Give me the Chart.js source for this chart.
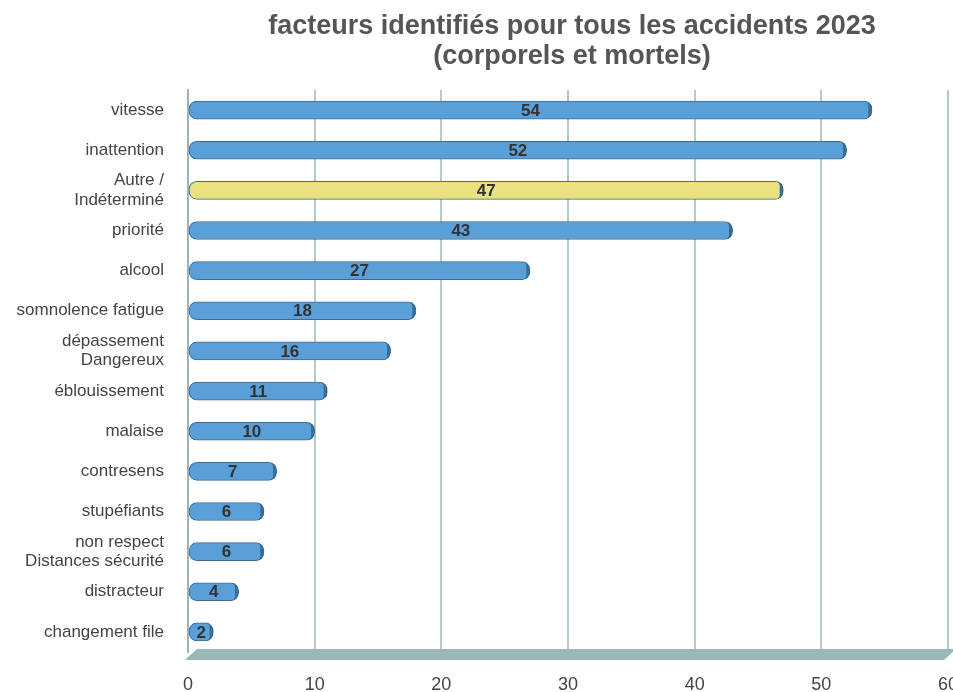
<!DOCTYPE html>
<html>
<head>
<meta charset="utf-8">
<script src="https://cdn.jsdelivr.net/npm/chart.js@4.4.1/dist/chart.umd.min.js"></script>
<style>
  html, body { margin: 0; padding: 0; background: #fff; }
  #wrap { width: 953px; height: 692px; position: relative; }
</style>
</head>
<body>
<div id="wrap"><canvas id="facteursChart"></canvas></div>
<script>
const categories = [
    'vitesse', 'inattention', ['Autre /', 'Indéterminé'], 'priorité', 'alcool',
    'somnolence fatigue', ['dépassement', 'Dangereux'], 'éblouissement', 'malaise',
    'contresens', 'stupéfiants', ['non respect', 'Distances sécurité'], 'distracteur',
    'changement file'
];
const valeurs = [54, 52, 47, 43, 27, 18, 16, 11, 10, 7, 6, 6, 4, 2];
const xTicks = [0, 10, 20, 30, 40, 50, 60];
const titre = ['facteurs identifiés pour tous les accidents 2023', '(corporels et mortels)'];

const bleu = '#5a9fd8';
const jaune = '#e9e27e';
const couleurs = categories.map(c => Array.isArray(c) && c[0] === 'Autre /' ? jaune : bleu);

// titre centré sur la zone du graphique + plancher
const decorPlugin = {
    id: 'decor',
    beforeDatasetsDraw(chart) {
        const { ctx, chartArea } = chart;
        ctx.save();
        ctx.fillStyle = '#9bb8b8';
        ctx.beginPath();
        ctx.moveTo(chartArea.left - 3, chartArea.bottom + 8);
        ctx.lineTo(chartArea.left + 9, chartArea.bottom - 3);
        ctx.lineTo(chartArea.right + 8, chartArea.bottom - 3);
        ctx.lineTo(chartArea.right - 4, chartArea.bottom + 8);
        ctx.closePath();
        ctx.fill();
        ctx.restore();
    },
    afterDraw(chart) {
        const { ctx, chartArea } = chart;
        const cx = (chartArea.left + chartArea.right) / 2 + 4;
        ctx.save();
        ctx.fillStyle = '#555';
        ctx.font = 'bold 27px "Liberation Sans", Arial, sans-serif';
        ctx.textAlign = 'center';
        ctx.textBaseline = 'middle';
        ctx.fillText(titre[0], cx, 27);
        ctx.fillText(titre[1], cx, 57);
        ctx.restore();
    }
};

const labelsPlugin = {
    id: 'valeursLabels',
    afterDatasetsDraw(chart) {
        const { ctx } = chart;
        const meta = chart.getDatasetMeta(0);
        ctx.save();
        ctx.fillStyle = '#333';
        ctx.font = 'bold 17px "Liberation Sans", Arial, sans-serif';
        ctx.textAlign = 'center';
        ctx.textBaseline = 'middle';
        meta.data.forEach((bar, i) => {
            const x = (bar.base + bar.x) / 2;
            ctx.fillText(String(valeurs[i]), x, bar.y + 1);
        });
        ctx.restore();
    }
};

const ctx = document.getElementById('facteursChart').getContext('2d');
new Chart(ctx, {
    type: 'bar',
    data: {
        labels: categories,
        datasets: [{
            data: valeurs,
            backgroundColor: couleurs,
            borderColor: '#3b6d94',
            borderWidth: { left: 1, top: 1, bottom: 1, right: 4 },
            borderRadius: 8,
            borderSkipped: false,
            barThickness: 18
        }]
    },
    options: {
        indexAxis: 'y',
        responsive: true,
        maintainAspectRatio: false,
        animation: false,
        layout: { padding: { top: 90, right: 5, left: 6, bottom: 0 } },
        plugins: {
            legend: { display: false },
            title: { display: false },
            tooltip: { enabled: false }
        },
        scales: {
            x: {
                min: 0,
                max: 60,
                afterBuildTicks: axis => { axis.ticks = xTicks.map(v => ({ value: v })); },
                afterFit: axis => { axis.height = 40; axis.paddingLeft = 0; axis.paddingRight = 0; },
                grid: { color: '#b0cbcb', lineWidth: 2, drawTicks: false },
                border: { display: false },
                ticks: {
                    color: '#444',
                    padding: 22,
                    font: { family: '"Liberation Sans", Arial, sans-serif', size: 18 }
                }
            },
            y: {
                afterFit: axis => { axis.width = 182; axis.paddingTop = 0; axis.paddingBottom = 0; },
                grid: { display: false, drawTicks: false },
                border: { display: true, color: '#9fb5b5', width: 2 },
                ticks: {
                    autoSkip: false,
                    color: '#444',
                    padding: 24,
                    font: { family: '"Liberation Sans", Arial, sans-serif', size: 17, lineHeight: 1.15 }
                }
            }
        }
    },
    plugins: [decorPlugin, labelsPlugin]
});
</script>
</body>
</html>
